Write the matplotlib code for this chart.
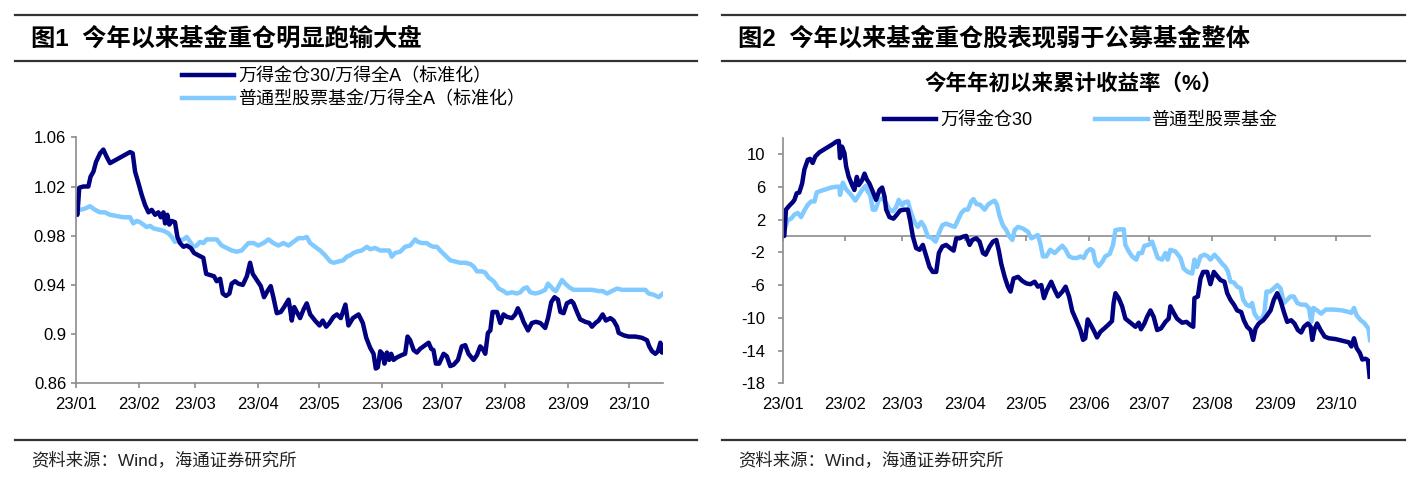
import matplotlib
matplotlib.use("Agg")
import matplotlib.pyplot as plt
import matplotlib.dates as mdates
from matplotlib.lines import Line2D
import numpy as np
import pandas as pd

plt.rcParams["font.family"] = ["Liberation Sans", "Noto Sans CJK SC"]
plt.rcParams["axes.unicode_minus"] = False

W, H = 1419, 487
NAVY = "#000080"
SKY = "#80caff"
AXIS_GRAY = "#8c8c8c"
RULE = "#333333"

START = pd.Timestamp("2023-01-03")
END = pd.Timestamp("2023-10-20")
MONTH_TICKS = pd.date_range(START, periods=10, freq=pd.DateOffset(months=1))

# ---- figure 1: relative to Wind All A (normalised); x = calendar days since 2023-01-03
fig1_heavy_day = [0, 0.7, 1.6, 3.6, 6.1, 7.2, 8.6, 9.9, 11.9, 13.5, 15.2, 16.8, 20.1, 23.4, 26.7,
                  28.0, 29.2, 30.8, 32.5, 34.1, 35.8, 37.4, 39.1, 40.7, 41.9, 43.2, 44.0, 45.1, 46.1,
                  47.3, 48.9, 50.1, 51.4, 53.1, 54.7, 56.7, 58.3, 60.5, 62.9, 64.3, 66.2, 68.2, 69.5,
                  71.2, 72.5, 74.1, 75.8, 76.9, 78.6, 80.2, 82.4, 84.4, 86.0, 87.3, 89.3, 91.3, 92.9,
                  94.6, 96.2, 97.5, 99.2, 101.2, 102.8, 105.0, 105.8, 106.6, 107.8, 109.1, 110.7,
                  112.4, 114.0, 115.7, 118.1, 120.3, 121.9, 123.6, 125.2, 127.2, 128.9, 130.8, 133.1,
                  134.6, 136.8, 139.6, 141.7, 143.4, 145.3, 147.0, 148.1, 149.1, 150.3, 151.4, 152.4,
                  153.6, 154.7, 155.7, 156.9, 158.5, 161.0, 162.6, 163.8, 165.1, 166.8, 168.4, 170.0,
                  172.5, 174.2, 175.5, 176.6, 177.8, 179.4, 181.6, 183.2, 184.9, 186.5, 188.7, 190.6,
                  192.3, 193.9, 196.4, 198.1, 199.7, 200.9, 202.2, 203.5, 204.7, 205.8, 208.0, 209.6,
                  211.2, 212.9, 215.4, 217.0, 218.3, 219.5, 221.1, 223.3, 225.2, 227.2, 229.4, 231.8,
                  233.2, 234.8, 236.4, 238.1, 239.3, 240.9, 242.5, 244.7, 245.8, 247.5, 249.1, 251.6,
                  253.6, 254.9, 256.6, 258.2, 260.2, 261.8, 264.0, 265.6, 267.3, 268.1, 270.6, 273.0,
                  276.3, 279.6, 282.1, 283.2, 284.6, 286.2, 287.5, 288.7, 289.5, 290.0]
fig1_heavy_val = [1.000, 0.997, 1.019, 1.020, 1.020, 1.028, 1.032, 1.040, 1.047, 1.050, 1.044, 1.039,
                  1.042, 1.045, 1.048, 1.047, 1.032, 1.023, 1.013, 1.005, 0.999, 1.001, 0.997, 0.999,
                  0.995, 0.999, 0.990, 0.997, 0.989, 0.992, 0.991, 0.979, 0.974, 0.971, 0.972, 0.970,
                  0.966, 0.964, 0.962, 0.949, 0.948, 0.947, 0.943, 0.945, 0.933, 0.931, 0.933, 0.941,
                  0.943, 0.941, 0.940, 0.947, 0.958, 0.949, 0.944, 0.939, 0.930, 0.935, 0.939, 0.930,
                  0.917, 0.918, 0.922, 0.928, 0.920, 0.911, 0.922, 0.918, 0.913, 0.920, 0.925, 0.916,
                  0.911, 0.907, 0.911, 0.906, 0.909, 0.914, 0.916, 0.913, 0.924, 0.907, 0.913, 0.916,
                  0.909, 0.897, 0.889, 0.884, 0.872, 0.873, 0.886, 0.884, 0.876, 0.885, 0.879, 0.884,
                  0.879, 0.881, 0.883, 0.884, 0.898, 0.895, 0.887, 0.885, 0.888, 0.891, 0.893, 0.888,
                  0.887, 0.876, 0.876, 0.884, 0.882, 0.874, 0.875, 0.879, 0.890, 0.891, 0.884, 0.879,
                  0.883, 0.890, 0.888, 0.884, 0.901, 0.903, 0.918, 0.918, 0.909, 0.916, 0.914, 0.913,
                  0.916, 0.921, 0.917, 0.910, 0.903, 0.909, 0.910, 0.909, 0.905, 0.913, 0.926, 0.930,
                  0.928, 0.918, 0.917, 0.925, 0.927, 0.925, 0.918, 0.912, 0.910, 0.909, 0.906, 0.909,
                  0.911, 0.916, 0.911, 0.913, 0.911, 0.906, 0.901, 0.899, 0.898, 0.898, 0.897, 0.895,
                  0.890, 0.886, 0.884, 0.886, 0.893, 0.885, 0.885]

fig1_fund_day = [0, 2.0, 4.4, 6.9, 9.4, 11.9, 14.3, 16.8, 20.1, 23.4, 26.7, 28.3, 30.0, 31.6, 33.3,
                 34.9, 36.6, 38.2, 40.7, 43.2, 45.6, 47.3, 48.9, 50.6, 53.1, 54.7, 56.4, 58.0, 59.6,
                 61.3, 62.9, 64.6, 67.1, 69.5, 72.0, 74.5, 76.9, 79.4, 81.9, 83.5, 85.2, 87.7, 90.1,
                 92.6, 95.1, 97.5, 100.0, 102.5, 105.0, 107.4, 109.9, 112.4, 114.0, 115.7, 118.1,
                 120.6, 123.1, 125.6, 127.2, 129.7, 132.1, 133.8, 135.4, 137.1, 138.7, 141.2, 143.7,
                 145.3, 147.8, 150.3, 152.7, 154.7, 156.0, 157.7, 160.2, 162.6, 165.1, 167.6, 168.9,
                 170.9, 173.3, 175.0, 176.6, 178.3, 179.9, 182.4, 184.9, 187.4, 189.8, 192.3, 194.8,
                 196.4, 198.1, 200.5, 202.2, 203.8, 206.3, 208.8, 211.2, 212.9, 215.4, 217.8, 219.5,
                 221.1, 222.8, 224.4, 226.9, 229.4, 231.8, 233.2, 234.3, 236.0, 237.1, 238.4, 240.1,
                 241.7, 243.7, 245.8, 248.3, 251.6, 254.9, 258.2, 260.2, 262.3, 264.8, 267.3, 269.7,
                 273.0, 276.3, 279.6, 281.3, 282.9, 285.4, 287.9, 290.0]
fig1_fund_val = [1.000, 1.001, 1.002, 1.004, 1.001, 0.999, 0.999, 0.997, 0.996, 0.995, 0.995, 0.990,
                 0.992, 0.991, 0.989, 0.987, 0.988, 0.986, 0.985, 0.984, 0.982, 0.979, 0.975, 0.976,
                 0.977, 0.979, 0.975, 0.971, 0.972, 0.975, 0.974, 0.977, 0.977, 0.977, 0.972, 0.970,
                 0.968, 0.967, 0.968, 0.971, 0.974, 0.974, 0.972, 0.974, 0.977, 0.974, 0.972, 0.974,
                 0.972, 0.975, 0.978, 0.978, 0.979, 0.974, 0.971, 0.968, 0.964, 0.959, 0.958, 0.959,
                 0.960, 0.963, 0.964, 0.966, 0.967, 0.968, 0.971, 0.969, 0.970, 0.968, 0.968, 0.968,
                 0.963, 0.966, 0.967, 0.971, 0.972, 0.977, 0.975, 0.974, 0.974, 0.972, 0.971, 0.971,
                 0.968, 0.964, 0.960, 0.959, 0.958, 0.958, 0.957, 0.955, 0.951, 0.951, 0.950, 0.946,
                 0.943, 0.937, 0.935, 0.933, 0.934, 0.933, 0.934, 0.937, 0.938, 0.934, 0.933, 0.934,
                 0.936, 0.941, 0.939, 0.936, 0.935, 0.939, 0.944, 0.941, 0.938, 0.936, 0.936, 0.936,
                 0.936, 0.935, 0.935, 0.933, 0.935, 0.937, 0.936, 0.936, 0.936, 0.936, 0.936, 0.933,
                 0.932, 0.930, 0.933]

# ---- figure 2: cumulative return since start of year (%)
fig2_heavy_day = [0, 0.8, 1.6, 3.3, 4.9, 5.8, 6.9, 8.2, 9.6, 10.7, 12.4, 13.5, 14.8, 16.1, 18.1, 21.4,
                  24.7, 26.4, 27.7, 28.3, 29.3, 30.5, 31.3, 32.6, 34.3, 35.4, 36.6, 37.6, 39.2, 40.4,
                  41.5, 42.8, 44.5, 46.1, 47.8, 49.1, 50.3, 51.1, 52.7, 54.7, 56.4, 58.0, 60.1, 61.8,
                  62.9, 64.3, 65.9, 67.6, 69.2, 70.9, 72.5, 74.1, 75.8, 77.1, 78.8, 80.7, 82.7, 84.4,
                  85.7, 87.3, 89.0, 90.6, 92.3, 93.6, 95.6, 97.2, 98.9, 100.2, 102.2, 103.8, 105.5,
                  106.8, 107.9, 109.6, 111.2, 112.5, 114.0, 116.2, 118.3, 120.3, 122.3, 124.4, 126.0,
                  127.7, 129.0, 130.5, 132.6, 134.3, 135.9, 138.1, 139.7, 141.4, 143.0, 145.3, 147.0,
                  148.3, 149.4, 150.6, 152.2, 153.9, 155.2, 156.9, 158.8, 161.0, 162.6, 163.4, 164.3,
                  165.9, 167.6, 169.2, 171.7, 174.2, 175.8, 176.9, 178.6, 179.9, 181.6, 183.2, 184.9,
                  186.8, 189.0, 190.6, 191.4, 193.1, 194.7, 197.2, 199.4, 201.3, 202.7, 203.3, 205.0,
                  206.3, 207.6, 209.6, 211.2, 212.9, 214.5, 216.2, 218.1, 219.5, 221.1, 222.8, 224.4,
                  226.4, 227.7, 229.3, 231.0, 232.3, 233.5, 235.1, 237.3, 239.2, 240.9, 242.5, 244.2,
                  245.8, 247.5, 249.1, 251.1, 252.7, 254.4, 256.0, 257.4, 259.3, 260.7, 261.5, 262.6,
                  263.9, 265.6, 267.6, 269.7, 273.0, 276.3, 279.6, 280.8, 282.1, 283.4, 285.0, 286.2,
                  287.8, 289.0, 289.8]
fig2_heavy_val = [0.0, 0.0, 3.2, 3.7, 4.1, 4.4, 5.2, 5.3, 6.4, 8.1, 9.3, 9.4, 8.9, 9.7, 10.2, 10.7,
                  11.2, 11.5, 11.6, 9.5, 10.9, 10.1, 8.5, 7.2, 6.2, 5.6, 7.2, 6.2, 6.8, 7.6, 6.9, 6.4,
                  5.4, 4.4, 5.6, 5.9, 4.8, 3.2, 2.3, 2.1, 2.6, 3.1, 3.2, 3.2, 1.9, -0.1, -1.5, -1.7,
                  -1.1, -2.5, -3.8, -4.4, -4.4, -2.1, -1.3, -1.1, -1.5, -1.8, -0.3, -0.3, -0.1, 0.0,
                  -1.1, -0.5, -0.3, -0.7, -2.1, -2.3, -1.3, -0.7, -0.5, -1.9, -3.4, -5.0, -6.2, -6.8,
                  -5.2, -5.0, -5.5, -5.8, -5.9, -5.6, -6.2, -6.0, -7.6, -6.6, -5.6, -6.6, -7.4, -6.8,
                  -6.2, -7.4, -9.2, -10.5, -11.5, -12.7, -12.5, -10.2, -10.9, -11.7, -12.4, -11.7,
                  -11.3, -10.8, -10.4, -8.2, -7.0, -7.6, -8.6, -10.1, -10.6, -11.1, -10.6, -11.4,
                  -10.7, -9.9, -9.1, -9.9, -11.5, -11.3, -10.5, -10.1, -8.6, -9.4, -10.1, -10.6,
                  -10.5, -10.9, -11.1, -7.6, -7.4, -5.2, -4.4, -4.4, -5.9, -4.4, -4.9, -5.4, -5.6,
                  -7.0, -7.8, -8.4, -9.1, -9.3, -10.3, -11.1, -11.5, -12.7, -11.3, -10.7, -10.3, -9.7,
                  -9.1, -7.8, -7.0, -7.9, -9.3, -10.5, -10.3, -10.7, -11.5, -11.8, -11.1, -10.7, -11.1,
                  -12.7, -11.4, -10.7, -11.5, -12.3, -12.5, -12.6, -12.8, -13.0, -13.5, -12.5, -13.7,
                  -14.3, -15.1, -15.0, -15.2, -17.2]

fig2_fund_day = [0, 1.3, 2.5, 4.1, 5.8, 7.4, 9.1, 10.7, 12.4, 14.0, 15.7, 16.8, 18.9, 21.4, 23.9,
                 26.4, 28.0, 28.3, 29.7, 31.3, 33.8, 35.9, 37.6, 39.2, 40.9, 42.0, 43.2, 44.5, 45.8,
                 47.5, 49.1, 51.1, 52.7, 54.4, 56.0, 57.3, 59.0, 60.1, 61.8, 63.4, 65.1, 66.7, 68.4,
                 70.0, 71.7, 73.3, 75.5, 77.1, 78.8, 80.7, 82.7, 84.9, 86.5, 88.2, 89.8, 91.4, 93.1,
                 94.2, 95.6, 97.5, 99.7, 101.3, 103.0, 104.6, 105.8, 107.1, 108.7, 110.4, 112.0,
                 113.4, 114.5, 116.2, 118.6, 121.1, 122.8, 124.4, 126.0, 127.2, 128.5, 130.2, 132.1,
                 134.3, 135.9, 138.1, 139.7, 141.4, 143.4, 145.3, 147.0, 148.6, 150.3, 151.9, 153.2,
                 154.4, 156.0, 157.7, 159.3, 161.5, 163.1, 164.3, 166.4, 168.4, 169.2, 170.9, 172.5,
                 174.6, 175.8, 177.4, 178.6, 180.7, 182.4, 183.5, 185.2, 187.3, 189.0, 190.1, 191.4,
                 193.9, 196.4, 198.0, 200.0, 202.2, 203.3, 204.6, 206.3, 208.3, 209.9, 211.2, 213.2,
                 215.4, 217.0, 218.6, 219.8, 221.1, 222.8, 224.4, 226.1, 227.4, 229.0, 230.7, 231.8,
                 233.0, 234.6, 236.8, 237.9, 238.9, 240.6, 242.5, 244.2, 245.8, 247.5, 249.1, 250.8,
                 252.4, 254.1, 256.0, 258.2, 259.8, 261.0, 262.0, 263.9, 265.9, 268.1, 272.2, 276.3,
                 279.6, 280.8, 282.1, 283.4, 285.4, 287.0, 289.2, 290.0]
fig2_fund_val = [0.0, 1.1, 1.9, 2.1, 2.6, 2.8, 2.3, 3.1, 3.8, 4.2, 4.2, 5.3, 5.5, 5.7, 5.9, 6.0, 6.0,
                 5.0, 6.5, 5.7, 5.0, 4.3, 5.0, 5.6, 6.1, 5.4, 5.0, 3.2, 3.2, 4.4, 4.6, 4.0, 3.2, 3.0,
                 3.5, 4.4, 3.7, 4.1, 4.2, 2.8, 1.7, 1.1, 1.7, 1.1, -0.1, -0.2, -0.7, 0.3, 1.3, 1.5,
                 1.3, 1.1, 1.9, 2.8, 3.2, 3.2, 4.2, 4.5, 3.9, 3.8, 3.2, 3.8, 4.1, 4.3, 3.8, 2.4, 1.3,
                 0.7, -0.1, -0.5, 0.7, 1.1, 0.9, 0.5, -0.3, -0.1, 0.1, -0.9, -2.5, -2.5, -1.7, -2.1,
                 -1.7, -1.2, -1.7, -2.5, -2.7, -2.7, -2.5, -2.7, -1.9, -1.6, -1.8, -3.2, -3.7, -3.2,
                 -2.5, -2.2, -1.1, 0.7, 0.8, 0.8, -1.1, -1.9, -2.5, -2.9, -2.1, -2.1, -1.2, -1.1,
                 -0.7, -1.5, -2.7, -2.9, -2.1, -2.9, -1.7, -1.9, -2.7, -4.0, -4.4, -4.6, -2.9, -3.8,
                 -2.5, -2.3, -2.5, -2.9, -2.3, -2.9, -3.4, -3.8, -4.3, -5.6, -5.7, -6.2, -6.4, -7.8,
                 -8.4, -8.6, -8.2, -9.5, -10.1, -10.1, -9.3, -6.8, -6.8, -6.4, -6.0, -6.4, -8.2, -7.8,
                 -7.4, -7.4, -8.2, -8.4, -8.4, -8.8, -10.5, -8.8, -9.1, -9.5, -9.0, -9.0, -9.1, -9.3,
                 -9.4, -8.8, -9.7, -10.3, -10.6, -11.3, -12.7]

fig1_yticks = [0.86, 0.9, 0.94, 0.98, 1.02, 1.06]
fig2_yticks = [-18, -14, -10, -6, -2, 2, 6, 10]


def to_dates(days):
    return START + pd.to_timedelta(np.asarray(days, dtype=float), unit="D")


fig = plt.figure(figsize=(W / 100, H / 100), dpi=100)


def px_axes(x0, x1, y_top, y_bot):
    return fig.add_axes([x0 / W, 1 - y_bot / H, (x1 - x0) / W, (y_bot - y_top) / H])


def style_axes(ax):
    for s in ("top", "right"):
        ax.spines[s].set_visible(False)
    for s in ("left", "bottom"):
        ax.spines[s].set_color(AXIS_GRAY)
        ax.spines[s].set_linewidth(1.2)
    ax.tick_params(axis="both", direction="out", length=3.6, width=1.2,
                   color=AXIS_GRAY, labelsize=12, labelcolor="black")
    ax.tick_params(axis="x", pad=6)
    ax.tick_params(axis="y", pad=3.5)
    ax.set_xlim(START, END)
    ax.set_xticks(MONTH_TICKS)
    ax.xaxis.set_major_formatter(mdates.DateFormatter("%y/%m"))


def panel_frame(x0, x1, title, source):
    for y in (15, 61, 440):
        fig.add_artist(Line2D([x0 / W, x1 / W], [1 - y / H, 1 - y / H],
                              transform=fig.transFigure, color=RULE, lw=1.6))
    fig.text((x0 + 16) / W, 1 - 39 / H, title, fontsize=17.5, fontweight="bold", va="center")
    fig.text((x0 + 16) / W, 1 - 460 / H, source, fontsize=12.5, va="center", color="#222222")


SOURCE = "资料来源：Wind，海通证券研究所"
panel_frame(15, 697, "图1  今年以来基金重仓明显跑输大盘", SOURCE)
panel_frame(722, 1405, "图2  今年以来基金重仓股表现弱于公募基金整体", SOURCE)

# ---- left chart
ax1 = px_axes(76, 663, 137.3, 383.3)
style_axes(ax1)
ax1.plot(to_dates(fig1_fund_day), fig1_fund_val, color=SKY, lw=3.2,
         solid_joinstyle="round", label="普通型股票基金/万得全A（标准化）")
ax1.plot(to_dates(fig1_heavy_day), fig1_heavy_val, color=NAVY, lw=3.2,
         solid_joinstyle="round", label="万得金仓30/万得全A（标准化）")
ax1.set_ylim(0.86, 1.06)
ax1.set_yticks(fig1_yticks)
ax1.set_yticklabels([f"{v:g}" for v in fig1_yticks])

h, l = ax1.get_legend_handles_labels()
fig.legend(h[::-1], l[::-1], loc="upper left", bbox_to_anchor=(182 / W, 1 - 68 / H),
           frameon=False, fontsize=13, handlelength=2.9, handletextpad=0.2,
           labelspacing=0.3, borderpad=0, borderaxespad=0)

# ---- right chart
ax2 = px_axes(782.7, 1370, 137.6, 383.3)
style_axes(ax2)
ax2.plot(to_dates(fig2_fund_day), fig2_fund_val, color=SKY, lw=3.2,
         solid_joinstyle="round", label="普通型股票基金")
ax2.plot(to_dates(fig2_heavy_day), fig2_heavy_val, color=NAVY, lw=3.2,
         solid_joinstyle="round", label="万得金仓30")
ax2.set_ylim(-18, 12)
ax2.set_yticks(fig2_yticks)
ax2.tick_params(axis="y", pad=9)

# x axis drawn through zero, labels stay at the bottom
ax2.spines["bottom"].set_visible(False)
ax2.tick_params(axis="x", length=0, pad=10)
zero_loc = (0 - ax2.get_ylim()[0]) / (ax2.get_ylim()[1] - ax2.get_ylim()[0])
sec = ax2.secondary_xaxis(zero_loc)
sec.set_xticks(mdates.date2num(MONTH_TICKS))
sec.xaxis.set_ticks_position("bottom")
sec.tick_params(axis="x", direction="out", length=3.6, width=1.2, color=AXIS_GRAY,
                labelbottom=False, labeltop=False)
for s in sec.spines.values():
    s.set_color(AXIS_GRAY)
    s.set_linewidth(1.2)
sec.set_zorder(0.5)

fig.text(1074 / W, 1 - 84 / H, "今年年初以来累计收益率（%）", fontsize=15.5,
         fontweight="bold", ha="center", va="center")

h, l = ax2.get_legend_handles_labels()
fig.legend(h[::-1], l[::-1], loc="upper left", bbox_to_anchor=(884 / W, 1 - 112 / H),
           ncol=2, frameon=False, fontsize=13, handlelength=2.9, handletextpad=0.2,
           columnspacing=3.5, borderpad=0, borderaxespad=0)

fig.savefig("out.png", dpi=100, facecolor="white")
